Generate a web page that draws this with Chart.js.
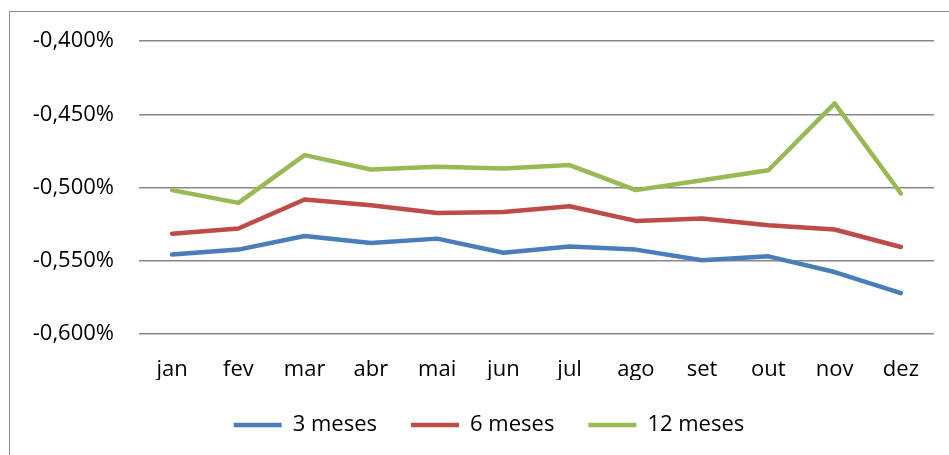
<!DOCTYPE html>
<html>
<head>
<meta charset="utf-8">
<script src="https://cdn.jsdelivr.net/npm/chart.js@4/dist/chart.umd.min.js"></script>
<style>
  html, body { margin: 0; padding: 0; background: #fff; overflow: hidden; }
  #wrap { position: relative; width: 949px; height: 455px; }
  #frame { position: absolute; left: 9px; top: 11px; width: 1000px; height: 500px; border: 1.3px solid #8c8c8c; box-sizing: border-box; pointer-events: none; }
  canvas { position: absolute; left: 0; top: 0; }
</style>
</head>
<body>
<div id="wrap">
  <canvas id="c" width="949" height="455"></canvas>
  <div id="frame"></div>
</div>
<script>
const categories = ['jan','fev','mar','abr','mai','jun','jul','ago','set','out','nov','dez'];
const seriesNames = ['3 meses','6 meses','12 meses'];
const meses3  = [-0.5458,-0.5424,-0.5331,-0.5379,-0.5349,-0.5445,-0.5402,-0.5424,-0.5497,-0.5470,-0.5577,-0.5721];
const meses6  = [-0.5315,-0.5280,-0.5082,-0.5121,-0.5174,-0.5167,-0.5128,-0.5228,-0.5212,-0.5258,-0.5287,-0.5406];
const meses12 = [-0.5018,-0.5105,-0.4779,-0.4877,-0.4859,-0.4870,-0.4847,-0.5018,-0.4950,-0.4882,-0.4426,-0.5041];
const yTicks  = [-0.600,-0.550,-0.500,-0.450,-0.400];
const colors  = ['#4a7ebb','#be4b48','#98b954'];

const FONT = { family: "'Open Sans', sans-serif", size: 22 };

function ds(label, data, color) {
  return {
    label, data,
    borderColor: color, backgroundColor: color,
    borderWidth: 4.5, pointRadius: 0, pointHoverRadius: 0,
    tension: 0, borderCapStyle: 'round', borderJoinStyle: 'round', fill: false
  };
}

const legendShift = {
  id: 'legendShift',
  afterLayout(chart) { if (chart.legend) { chart.legend.left = 44; } }
};

new Chart(document.getElementById('c'), {
  type: 'line',
  data: {
    labels: categories,
    datasets: [ds(seriesNames[0], meses3, colors[0]), ds(seriesNames[1], meses6, colors[1]), ds(seriesNames[2], meses12, colors[2])]
  },
  plugins: [legendShift],
  options: {
    responsive: false,
    animation: false,
    devicePixelRatio: 1,
    layout: { padding: { left: 0, right: 15, top: 41, bottom: 9 } },
    plugins: {
      tooltip: { enabled: false },
      legend: {
        position: 'bottom',
        labels: {
          font: FONT, color: '#000',
          usePointStyle: true, pointStyle: 'line', pointStyleWidth: 48,
          padding: 34
        }
      }
    },
    scales: {
      x: {
        offset: true,
        grid: { display: false, drawTicks: false },
        border: { display: false },
        ticks: { font: FONT, color: '#000', padding: 23, maxRotation: 0, autoSkip: false },
        afterFit(s) { s.height = 46; }
      },
      y: {
        min: -0.6, max: -0.4,
        grid: { color: '#888888', lineWidth: 1.5, drawTicks: false },
        border: { display: false },
        afterBuildTicks(s) { s.ticks = yTicks.map(v => ({ value: v })); },
        ticks: {
          font: FONT, color: '#000', padding: 25,
          callback: v => v.toFixed(3).replace('.', ',') + '%'
        },
        afterFit(s) { s.width = 139; }
      }
    }
  }
});
</script>
</body>
</html>
